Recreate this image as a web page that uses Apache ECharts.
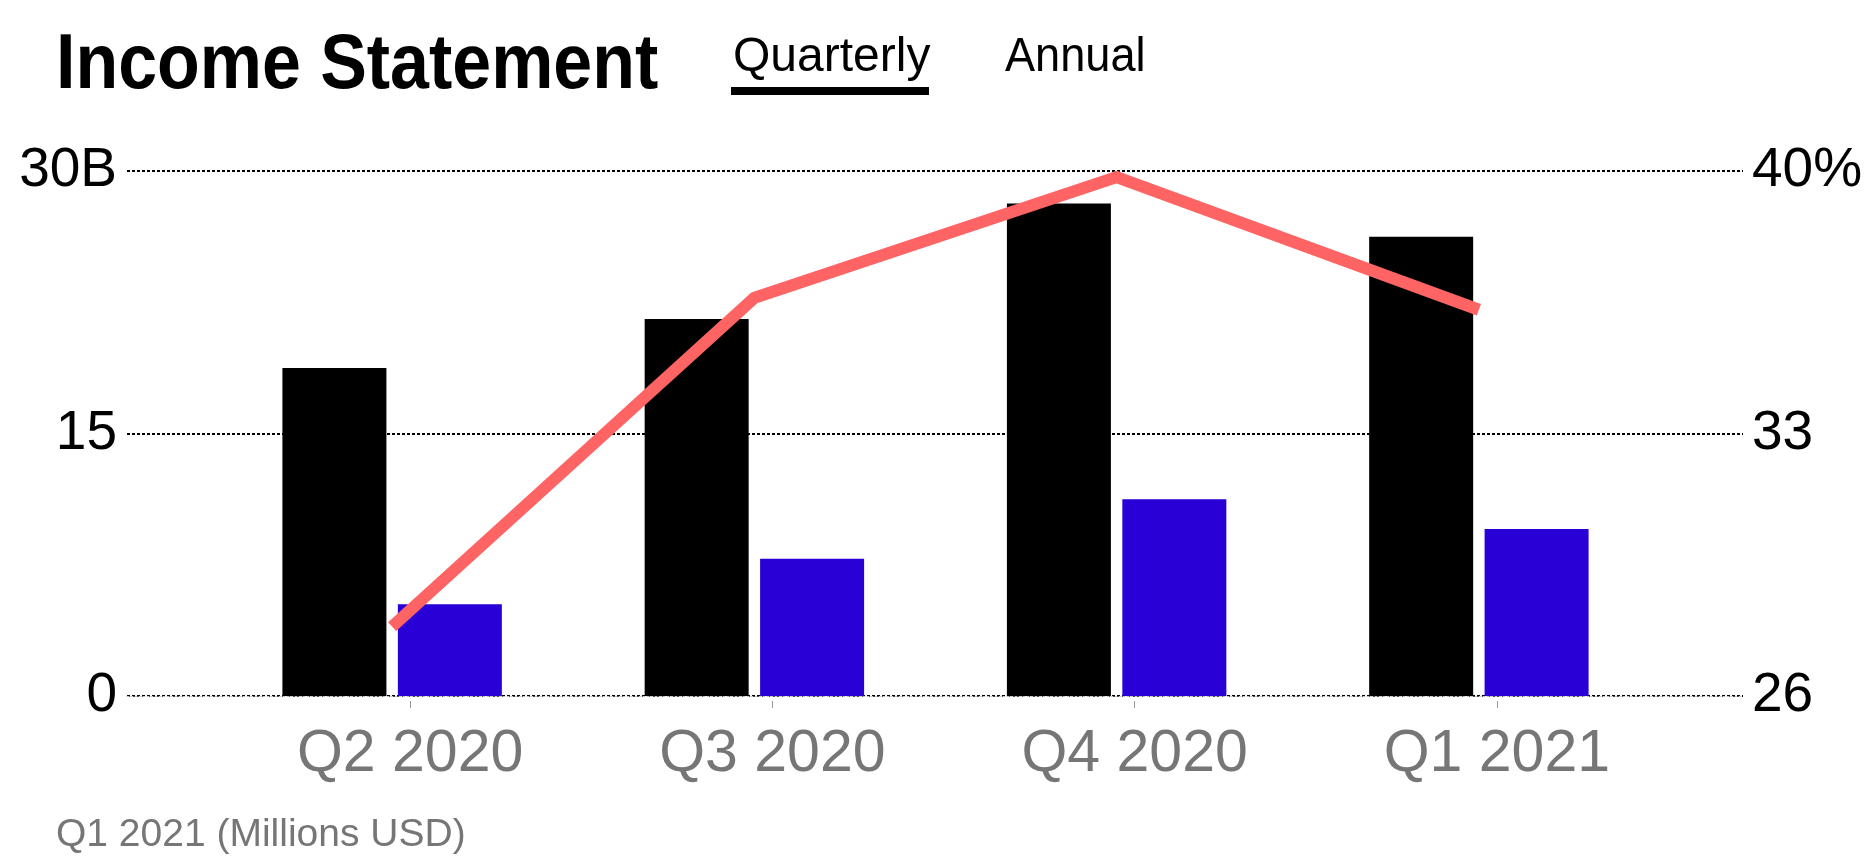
<!DOCTYPE html>
<html>
<head>
<meta charset="utf-8">
<script src="https://cdn.jsdelivr.net/npm/echarts@6/dist/echarts.min.js"></script>
<style>
html,body{margin:0;padding:0;background:#fff;}
#chart{width:1873px;height:860px;}
</style>
</head>
<body>
<div id="chart"></div>
<script>
// ---- data ----
const categories = ['Q2 2020', 'Q3 2020', 'Q4 2020', 'Q1 2021'];
const revenue = [18.75, 21.55, 28.15, 26.25];      // billions USD (black bars)
const netIncome = [5.25, 7.85, 11.25, 9.55];       // billions USD (blue bars)
const margin = [27.85, 36.62, 39.84, 36.3];        // percent (red line)
const leftTicks = [0, 15, 30];
const rightTicks = [26, 33, 40];
const titleText = 'Income Statement';
const tabLabels = ['Quarterly', 'Annual'];
const footnote = 'Q1 2021 (Millions USD)';

const FONT = '"Liberation Sans", Arial, Helvetica, sans-serif';
const chart = echarts.init(document.getElementById('chart'), null, {renderer: 'canvas'});

const option = {
  backgroundColor: '#fff',
  animation: false,
  grid: [
    {left: 211, width: 1449, top: 171, bottom: 164},   // bars + line
    {left: 229, width: 1449, top: 171, bottom: 159},   // category labels
    {left: 127, right: 130, top: 171, bottom: 164}     // gridlines + y labels
  ],
  xAxis: [
    {gridIndex: 0, type: 'category', data: categories, boundaryGap: true, show: false},
    {gridIndex: 1, type: 'category', data: categories, boundaryGap: true,
      axisLine: {show: false},
      axisTick: {show: true, alignWithLabel: true, length: 7, lineStyle: {color: '#999', width: 1}},
      axisLabel: {show: true, fontFamily: FONT, fontSize: 59, color: '#767676', margin: 24},
      splitLine: {show: false}},
    {gridIndex: 2, type: 'value', min: 0, max: 1, offset: 5,
      axisLine: {show: true, lineStyle: {color: '#c8c8c8', width: 1, type: [2, 2]}},
      axisTick: {show: false}, axisLabel: {show: false}, splitLine: {show: false}}
  ],
  yAxis: [
    {gridIndex: 0, type: 'value', min: 0, max: 30, show: false},
    {gridIndex: 0, type: 'value', min: 26, max: 40, show: false},
    {gridIndex: 1, type: 'value', min: 0, max: 1, show: false},
    {gridIndex: 2, type: 'value', position: 'left', min: leftTicks[0], max: leftTicks[2], interval: leftTicks[1] - leftTicks[0],
      axisLine: {show: false}, axisTick: {show: false},
      axisLabel: {fontFamily: FONT, fontSize: 55, color: '#000', margin: 10,
        formatter: v => v === leftTicks[2] ? v + 'B' : String(v)},
      splitLine: {show: true, lineStyle: {color: '#000', width: 1.8, type: [3, 2]}}},
    {gridIndex: 2, type: 'value', position: 'right', min: rightTicks[0], max: rightTicks[2], interval: rightTicks[1] - rightTicks[0],
      axisLine: {show: false}, axisTick: {show: false},
      axisLabel: {fontFamily: FONT, fontSize: 55, color: '#000', margin: 9,
        formatter: v => v === rightTicks[2] ? v + '%' : String(v)},
      splitLine: {show: false}}
  ],
  series: [
    {type: 'bar', xAxisIndex: 0, yAxisIndex: 0, data: revenue, barWidth: 104, barGap: '11%',
      itemStyle: {color: '#000'}, z: 2},
    {type: 'bar', xAxisIndex: 0, yAxisIndex: 0, data: netIncome, barWidth: 104, barGap: '11%',
      itemStyle: {color: '#2900d6'}, z: 2},
    {type: 'line', xAxisIndex: 0, yAxisIndex: 1, data: margin, symbol: 'none',
      lineStyle: {color: '#ff6464', width: 12, cap: 'butt', join: 'miter'}, z: 5}
  ],
  graphic: [
    {type: 'text', left: 56, top: 28, scaleX: 0.908, originX: 0,
      style: {text: titleText, font: 'bold 77px ' + FONT, fill: '#000'}},
    {type: 'text', left: 733, top: 34,
      style: {text: tabLabels[0], font: '48px ' + FONT, fill: '#000'}},
    {type: 'rect', shape: {x: 731, y: 87, width: 198, height: 8}, style: {fill: '#000'}},
    {type: 'text', left: 1005, top: 34, scaleX: 0.94, originX: 0,
      style: {text: tabLabels[1], font: '48px ' + FONT, fill: '#000'}},
    {type: 'text', left: 56, top: 816,
      style: {text: footnote, font: '39px ' + FONT, fill: '#767676'}}
  ]
};
chart.setOption(option);
</script>
</body>
</html>
